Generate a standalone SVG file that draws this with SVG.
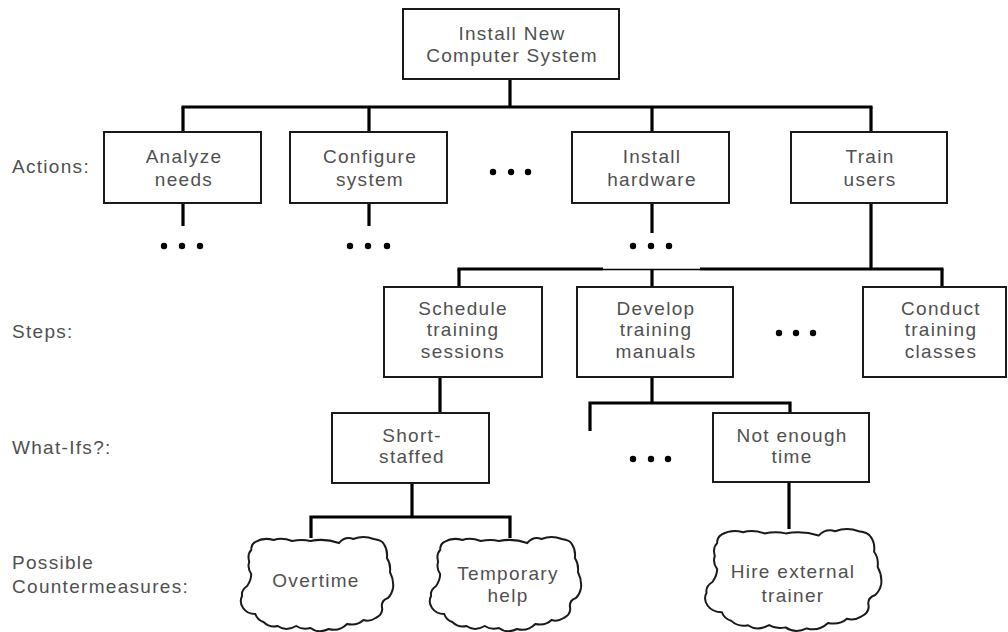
<svg xmlns="http://www.w3.org/2000/svg" xmlns:xlink="http://www.w3.org/1999/xlink" width="1008" height="632" viewBox="0 0 1008 632">
<style>
  .box { fill: #fff; stroke: #1a1a1a; stroke-width: 2; }
  .t { font-family: "Liberation Sans", Arial, sans-serif; font-size: 19px; letter-spacing: 1.3px; fill: #505050; text-anchor: middle; }
  .lbl { font-family: "Liberation Sans", Arial, sans-serif; font-size: 19px; letter-spacing: 1.3px; fill: #505050; }
  .con { stroke: #000; stroke-width: 3.2; fill: none; stroke-linecap: butt; }
  .thin { stroke: #000; stroke-width: 1.5; fill: none; }
  .dot { fill: #000; }
  .cloud { fill: #fff; stroke: #1a1a1a; stroke-width: 2; vector-effect: non-scaling-stroke; }
</style>
<defs>
  <path id="cloudShape" class="cloud" d="M16,6 Q24,1 34,4 Q42,1 52,5 Q62,3 70,5 Q84,2 98,7 Q104,0 112,3 Q122,-1 132,3 Q140,4 142,8 Q146,14 145,22 Q149,28 148,36 Q152,44 151,52 Q150,58 146,62 Q140,64 140,70 Q142,78 134,82 Q128,86 122,84 Q116,90 106,88 Q98,96 88,93 Q78,98 70,92 Q62,94 56,90 Q46,96 38,90 Q30,92 24,86 Q18,84 16,78 Q8,78 4,72 Q0,66 3,60 Q2,54 8,50 Q12,44 12,38 Q8,32 10,26 Q8,18 12,14 Q12,8 16,6 Z"/>
</defs>

<g id="connectors">
  <line class="con" x1="510" y1="79" x2="510" y2="107"/>
  <line class="con" x1="181.5" y1="107" x2="872.5" y2="107"/>
  <line class="con" x1="183" y1="107" x2="183" y2="132"/>
  <line class="con" x1="369" y1="107" x2="369" y2="132"/>
  <line class="con" x1="652" y1="107" x2="652" y2="132"/>
  <line class="con" x1="871" y1="107" x2="871" y2="132"/>
  <line class="con" x1="183" y1="203" x2="183" y2="226"/>
  <line class="con" x1="369" y1="203" x2="369" y2="226"/>
  <line class="con" x1="652" y1="203" x2="652" y2="233"/>
  <line class="con" x1="871" y1="203" x2="871" y2="269"/>
  <line class="con" x1="457.5" y1="269" x2="603" y2="269"/>
  <line class="thin" x1="603" y1="269.5" x2="700" y2="269.5"/>
  <line class="con" x1="700" y1="269" x2="943.5" y2="269"/>
  <line class="con" x1="459" y1="269" x2="459" y2="287"/>
  <line class="con" x1="652" y1="269" x2="652" y2="287"/>
  <line class="con" x1="942" y1="269" x2="942" y2="287"/>
  <line class="con" x1="440" y1="377" x2="440" y2="413"/>
  <line class="con" x1="652" y1="377" x2="652" y2="403"/>
  <polyline class="con" points="590,431 590,403 790,403 790,413"/>
  <line class="con" x1="412" y1="483" x2="412" y2="517"/>
  <polyline class="con" points="311,538 311,517 510,517 510,538"/>
  <line class="con" x1="789" y1="482" x2="789" y2="529"/>
</g>

<g id="ellipses">
  <circle class="dot" cx="493" cy="172" r="3.2"/><circle class="dot" cx="511" cy="172" r="3.2"/><circle class="dot" cx="528" cy="172" r="3.2"/>
  <circle class="dot" cx="164" cy="246" r="3.2"/><circle class="dot" cx="182" cy="246" r="3.2"/><circle class="dot" cx="200" cy="246" r="3.2"/>
  <circle class="dot" cx="350" cy="246" r="3.2"/><circle class="dot" cx="368" cy="246" r="3.2"/><circle class="dot" cx="387" cy="246" r="3.2"/>
  <circle class="dot" cx="633" cy="246" r="3.2"/><circle class="dot" cx="651" cy="246" r="3.2"/><circle class="dot" cx="669" cy="246" r="3.2"/>
  <circle class="dot" cx="779" cy="333" r="3.2"/><circle class="dot" cx="796" cy="333" r="3.2"/><circle class="dot" cx="813" cy="333" r="3.2"/>
  <circle class="dot" cx="633" cy="459" r="3.2"/><circle class="dot" cx="651" cy="459" r="3.2"/><circle class="dot" cx="668" cy="459" r="3.2"/>
</g>

<g id="labels">
  <text class="lbl" x="12" y="173">Actions:</text>
  <text class="lbl" x="12" y="338">Steps:</text>
  <text class="lbl" x="12" y="454">What-Ifs?:</text>
  <text class="lbl" x="12" y="569">Possible</text>
  <text class="lbl" x="12" y="593">Countermeasures:</text>
</g>

<g id="root">
  <rect class="box" x="403" y="9" width="216" height="70"/>
  <text class="t" x="512" y="40">Install New</text>
  <text class="t" x="512" y="62">Computer System</text>
</g>

<g id="analyze">
  <rect class="box" x="104" y="132" width="157" height="71"/>
  <text class="t" x="184" y="163">Analyze</text>
  <text class="t" x="184" y="186">needs</text>
</g>
<g id="configure">
  <rect class="box" x="290" y="132" width="157" height="71"/>
  <text class="t" x="370" y="163">Configure</text>
  <text class="t" x="370" y="186">system</text>
</g>
<g id="install-hardware">
  <rect class="box" x="572" y="132" width="157" height="71"/>
  <text class="t" x="652" y="163">Install</text>
  <text class="t" x="652" y="186">hardware</text>
</g>
<g id="train-users">
  <rect class="box" x="791" y="132" width="156" height="71"/>
  <text class="t" x="870" y="163">Train</text>
  <text class="t" x="870" y="186">users</text>
</g>

<g id="schedule">
  <rect class="box" x="384" y="287" width="158" height="90"/>
  <text class="t" x="463" y="315">Schedule</text>
  <text class="t" x="463" y="336">training</text>
  <text class="t" x="463" y="358">sessions</text>
</g>
<g id="develop">
  <rect class="box" x="577" y="287" width="156" height="90"/>
  <text class="t" x="656" y="315">Develop</text>
  <text class="t" x="656" y="336">training</text>
  <text class="t" x="656" y="358">manuals</text>
</g>
<g id="conduct">
  <rect class="box" x="863" y="287" width="143" height="90"/>
  <text class="t" x="941" y="315">Conduct</text>
  <text class="t" x="941" y="336">training</text>
  <text class="t" x="941" y="358">classes</text>
</g>

<g id="short-staffed">
  <rect class="box" x="332" y="413" width="157" height="70"/>
  <text class="t" x="412" y="442">Short-</text>
  <text class="t" x="412" y="463">staffed</text>
</g>
<g id="not-enough-time">
  <rect class="box" x="713" y="413" width="156" height="69"/>
  <text class="t" x="792" y="442">Not enough</text>
  <text class="t" x="792" y="463">time</text>
</g>

<g id="overtime">
  <use xlink:href="#cloudShape" href="#cloudShape" transform="translate(239,536) scale(1.02,1)"/>
  <text class="t" x="316" y="587">Overtime</text>
</g>
<g id="temporary-help">
  <use xlink:href="#cloudShape" href="#cloudShape" transform="translate(428,536) scale(1.013,1)"/>
  <text class="t" x="508" y="580">Temporary</text>
  <text class="t" x="508" y="602">help</text>
</g>
<g id="hire-external">
  <use xlink:href="#cloudShape" href="#cloudShape" transform="translate(703,528) scale(1.18,1.08)"/>
  <text class="t" x="793" y="578">Hire external</text>
  <text class="t" x="793" y="602">trainer</text>
</g>
</svg>
